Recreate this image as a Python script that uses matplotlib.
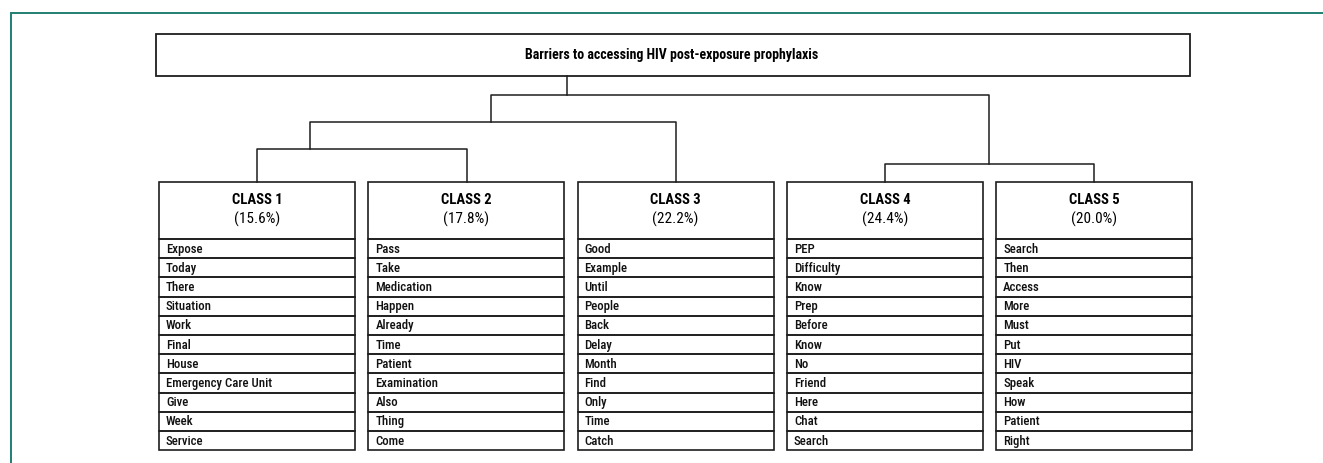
import matplotlib
matplotlib.use('Agg')
import matplotlib.pyplot as plt
from matplotlib import font_manager
from matplotlib.patches import Rectangle


def wnum(w):
    if isinstance(w, str):
        return font_manager.weight_dict.get(w, 400)
    return int(w)


# look for a narrow sans that has a bold face; fall back to Liberation Sans
weights = {}
for f in font_manager.fontManager.ttflist:
    if ('Narrow' in f.name or 'Condensed' in f.name) and f.style == 'normal':
        weights.setdefault(f.name, set()).add(wnum(f.weight))
prefer = ['Liberation Sans Narrow', 'Roboto Condensed', 'DejaVu Sans Condensed',
          'Noto Sans Condensed', 'Open Sans Condensed']
cands = [n for n in prefer if n in weights] + sorted(n for n in weights if n not in prefer)
narrow = None
for n in cands:
    ws = weights[n]
    if any(w >= 700 for w in ws) and any(350 <= w <= 500 for w in ws):
        narrow = n
        break

plt.rcParams['font.family'] = ([narrow] if narrow else []) + ['Liberation Sans', 'DejaVu Sans']
use_narrow = narrow is not None
row_weight = 'normal'
if use_narrow and 500 in weights[narrow]:
    row_weight = 'medium'

title = 'Barriers to accessing HIV post-exposure prophylaxis'

class_names = ['CLASS 1', 'CLASS 2', 'CLASS 3', 'CLASS 4', 'CLASS 5']
class_pct = [15.6, 17.8, 22.2, 24.4, 20.0]

words_c1 = ['Expose', 'Today', 'There', 'Situation', 'Work', 'Final', 'House',
            'Emergency Care Unit', 'Give', 'Week', 'Service']
words_c2 = ['Pass', 'Take', 'Medication', 'Happen', 'Already', 'Time', 'Patient',
            'Examination', 'Also', 'Thing', 'Come']
words_c3 = ['Good', 'Example', 'Until', 'People', 'Back', 'Delay', 'Month',
            'Find', 'Only', 'Time', 'Catch']
words_c4 = ['PEP', 'Difficulty', 'Know', 'Prep', 'Before', 'Know', 'No',
            'Friend', 'Here', 'Chat', 'Search']
words_c5 = ['Search', 'Then', 'Access', 'More', 'Must', 'Put', 'HIV',
            'Speak', 'How', 'Patient', 'Right']
class_words = [words_c1, words_c2, words_c3, words_c4, words_c5]

# layout (pixels, y grows downward)
W, H = 1323, 463
box_left0, box_w, box_gap = 159, 196, 13.3
box_top, head_h, row_h = 181.5, 57.5, 19.2
line_col = '#1e1e1e'

fs_title = 10 if use_narrow else 9.5
fs_head = 10.5 if use_narrow else 9.3
fs_pct = 11 if use_narrow else 9.8
fs_row = 9.2 if use_narrow else 8

fig = plt.figure(figsize=(W / 100, H / 100), dpi=100)
ax = fig.add_axes([0, 0, 1, 1])
ax.set_xlim(0, W)
ax.set_ylim(H, 0)
ax.axis('off')

# teal frame (only top/left visible)
ax.plot([10.5, 10.5, W + 5], [H + 5, 12.5, 12.5], color='#1f7f72', lw=1.4,
        solid_joinstyle='miter')

# title box
ax.add_patch(Rectangle((155.5, 33.5), 1034, 42, fill=False, ec=line_col, lw=1.3))
ax.text(672, 55, title, ha='center', va='center', fontsize=fs_title, fontweight='bold')

# dendrogram links: (x_left, x_right, y_join, y_bottom_left, y_bottom_right)
links = [
    (257, 467, 148.5, 181.5, 181.5),
    (310, 676, 121.5, 148.5, 181.5),
    (885, 1094, 163.5, 181.5, 181.5),
    (491, 989, 94.5, 121.5, 163.5),
]
for xl, xr, yj, ybl, ybr in links:
    ax.plot([xl, xl, xr, xr], [ybl, yj, yj, ybr], color=line_col, lw=1.1)
ax.plot([567, 567], [75.5, 94.5], color=line_col, lw=1.1)

# class boxes
for i, (name, pct, words) in enumerate(zip(class_names, class_pct, class_words)):
    x0 = box_left0 + i * (box_w + box_gap)
    xc = x0 + box_w / 2
    ax.add_patch(Rectangle((x0, box_top), box_w, head_h, fill=False, ec=line_col, lw=1.2))
    ax.text(xc, box_top + 18.5, name, ha='center', va='center', fontsize=fs_head, fontweight='bold')
    ax.text(xc, box_top + 38, f'({pct:.1f}%)', ha='center', va='center', fontsize=fs_pct)
    for j, w in enumerate(words):
        y0 = box_top + head_h + j * row_h
        ax.add_patch(Rectangle((x0, y0), box_w, row_h, fill=False, ec=line_col, lw=1.2))
        ax.text(x0 + 7, y0 + row_h / 2 + 0.5, w, ha='left', va='center', fontsize=fs_row,
                fontweight=row_weight, color='#111111')

fig.savefig('out.png', dpi=100)
